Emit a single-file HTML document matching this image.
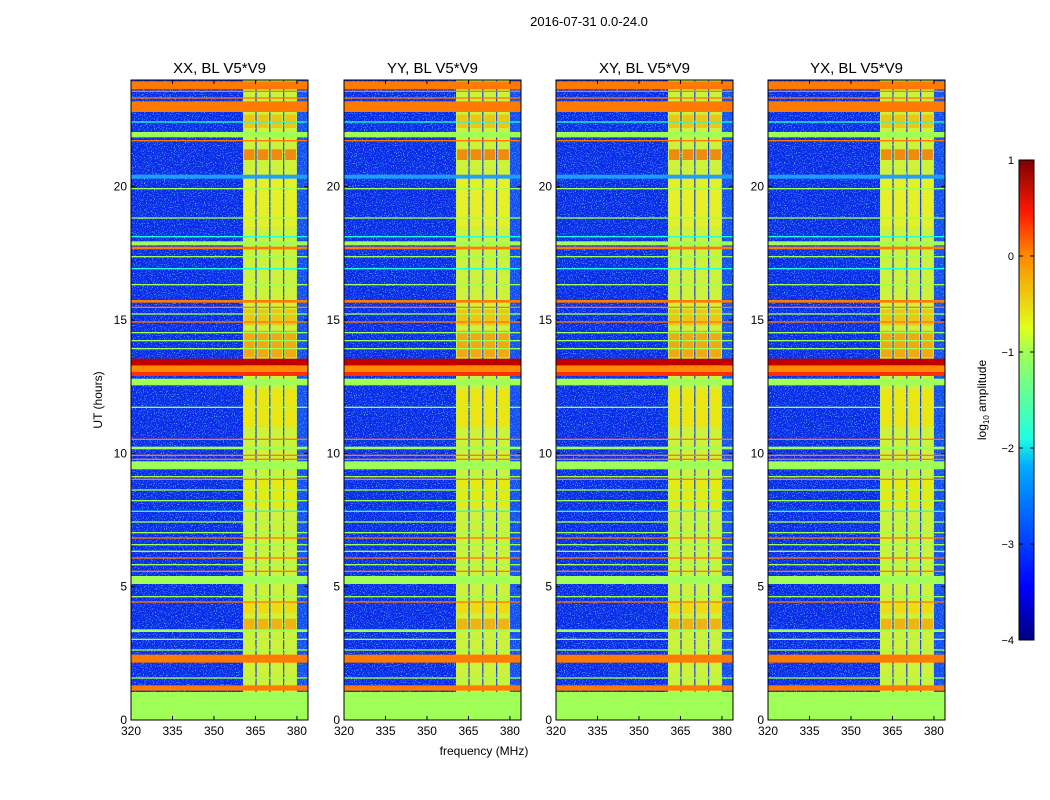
<!DOCTYPE html>
<html><head><meta charset="utf-8"><style>
body{margin:0;background:#fff;width:1050px;height:800px;overflow:hidden;font-family:"Liberation Sans",sans-serif}
svg{position:absolute;left:0;top:0}
text{font-family:"Liberation Sans",sans-serif;fill:#000}
</style></head><body>
<svg id="chart" width="1050" height="800" xmlns="http://www.w3.org/2000/svg">
<defs>
<filter id="noise" x="0" y="0" width="100%" height="100%">
<feTurbulence type="fractalNoise" baseFrequency="0.9" numOctaves="1" seed="3"/>
<feColorMatrix type="matrix" values="0 0 0 0 0.1  0 0 0 0 0.6  0 0 0 0 1  0 0 0 6 -3.4"/>
</filter>
<linearGradient id="jet" x1="0" y1="1" x2="0" y2="0">
<stop offset="0" stop-color="#00007f"/><stop offset="0.11" stop-color="#0000ff"/>
<stop offset="0.36" stop-color="#00aaff"/><stop offset="0.42" stop-color="#1effe0"/>
<stop offset="0.6" stop-color="#a0ff56"/><stop offset="0.65" stop-color="#e0ff1a"/>
<stop offset="0.8" stop-color="#ff8a00"/><stop offset="0.89" stop-color="#ff1a00"/>
<stop offset="1" stop-color="#7f0000"/>
</linearGradient>
</defs>
<text x="589" y="26" font-size="13" text-anchor="middle">2016-07-31 0.0-24.0</text>
</svg>
<script>
const titles=["XX, BL V5*V9","YY, BL V5*V9","XY, BL V5*V9","YX, BL V5*V9"];
const xTicks=[320,335,350,365,380];
const yTicks=[0,5,10,15,20];
const cbTicks=[1,0,-1,-2,-3,-4];
// vertical RFI-band columns [startMHz,endMHz]
const bandCols=[[360.5,365],[365.4,370],[370.4,375],[375.4,380]];
// bright patches inside band columns [startHour,endHour,color]
const bandPatches=[[3.3,3.8,"#ff9a00"],[4.0,4.4,"#ffd000"],[8.0,9.0,"#f0e800"],[11.0,12.4,"#f8e000"],[13.6,14.6,"#ff8a00"],[14.8,15.4,"#ffb000"],
[18.5,20.5,"#f0f020"],[21.0,21.4,"#ff6000"],[22.2,22.7,"#ffb000"]];
// horizontal features [startHour,endHour,color]
const hBands=[[0,1.05,"#a0ff56"],[1.1,1.3,"#ff7a00"],[1.55,1.6,"#a0ff56"],[2.15,2.45,"#ff7a00"],[2.6,2.65,"#a0ff56"],
[3.0,3.05,"#a0ff56"],[3.3,3.4,"#a0ff56"],[4.4,4.45,"#ff7a00"],[4.6,4.65,"#a0ff56"],[5.1,5.4,"#a0ff56"],[5.55,5.6,"#ff7a00"],
[5.8,5.85,"#a0ff56"],[6.05,6.1,"#ff7a00"],[6.3,6.35,"#a0ff56"],[6.55,6.6,"#a0ff56"],[6.8,6.85,"#ff7a00"],[7.0,7.05,"#a0ff56"],
[7.4,7.45,"#a0ff56"],[7.8,7.85,"#1effe0"],[8.2,8.25,"#a0ff56"],[8.6,8.65,"#a0ff56"],[9.0,9.05,"#ff7a00"],[9.1,9.15,"#a0ff56"],
[9.4,9.7,"#a0ff56"],[9.75,9.8,"#ff7a00"],[9.9,9.95,"#ff7a00"],[10.15,10.25,"#a0ff56"],[10.5,10.55,"#ff7a00"],[11.7,11.75,"#a0ff56"],
[12.55,12.8,"#a0ff56"],[12.9,13.05,"#ff3000"],[13.05,13.3,"#ff8a00"],[13.3,13.55,"#c00000"],[13.9,13.95,"#a0ff56"],[14.2,14.25,"#a0ff56"],
[14.5,14.55,"#a0ff56"],[14.9,14.95,"#ff7a00"],[15.2,15.25,"#a0ff56"],[15.45,15.5,"#ff7a00"],[15.65,15.75,"#ff7a00"],
[16.3,16.35,"#a0ff56"],[16.9,16.95,"#1effe0"],[17.35,17.4,"#a0ff56"],[17.65,17.75,"#ff7a00"],[17.8,17.95,"#a0ff56"],
[18.1,18.15,"#1effe0"],[18.8,18.85,"#a0ff56"],[19.9,19.95,"#a0ff56"],[20.3,20.45,"#1e9fff"],[21.7,21.75,"#ff7a00"],
[21.85,22.05,"#a0ff56"],[22.4,22.45,"#1effe0"],[22.8,23.2,"#ff7a00"],[23.3,23.35,"#ff7a00"],[23.55,23.6,"#ff7a00"],[23.65,23.95,"#ff7a00"]];
const panelX=[131,344,556,768],pW=177,pTop=80,pBot=720;
const xMin=320,xMax=384,yMax=24;
const NS="http://www.w3.org/2000/svg",svg=document.getElementById("chart");
function el(t,a,p){const e=document.createElementNS(NS,t);for(const k in a)e.setAttribute(k,a[k]);(p||svg).appendChild(e);return e;}
panelX.forEach((x0,pi)=>{
 const xs=v=>x0+(v-xMin)/(xMax-xMin)*pW, ys=h=>pBot-h/yMax*(pBot-pTop);
 const g=el("g",{});
 
 
 el("rect",{x:x0,y:pTop,width:pW,height:pBot-pTop,fill:"#0a2ae8"},g);
 el("rect",{x:x0,y:pTop,width:pW,height:pBot-pTop,filter:"url(#noise)"},g);
 el("rect",{x:xs(380),y:pTop,width:xs(xMax)-xs(380),height:pBot-pTop,fill:"#2f90ff",opacity:0.35},g);
 bandCols.forEach(c=>{const r=el("rect",{x:xs(c[0]),y:pTop,width:xs(c[1])-xs(c[0]),height:pBot-pTop,fill:"#cdf23c"},g);
  
  bandPatches.forEach(p=>{const q=el("rect",{x:xs(c[0])+1,y:ys(p[1]),width:xs(c[1])-xs(c[0])-2,height:ys(p[0])-ys(p[1]),fill:p[2],opacity:0.7},g);
   });});
 hBands.forEach(b=>{const r=el("rect",{x:x0,y:ys(b[1]),width:pW,height:Math.max(1,ys(b[0])-ys(b[1])),fill:b[2]},g);
  });
 el("rect",{x:x0,y:pTop,width:pW,height:pBot-pTop,fill:"none",stroke:"#000","stroke-width":1},g);
 xTicks.forEach(v=>{el("line",{x1:xs(v),x2:xs(v),y1:pBot,y2:pBot-4,stroke:"#000"},g);el("line",{x1:xs(v),x2:xs(v),y1:pTop,y2:pTop+4,stroke:"#000"},g);
  const t=el("text",{x:xs(v),y:pBot+15,"font-size":12,"text-anchor":"middle"},g);t.textContent=v;
  });
 yTicks.forEach(v=>{el("line",{x1:x0,x2:x0+4,y1:ys(v),y2:ys(v),stroke:"#000"},g);el("line",{x1:x0+pW,x2:x0+pW-4,y1:ys(v),y2:ys(v),stroke:"#000"},g);
  const t=el("text",{x:x0-4,y:ys(v)+4,"font-size":12,"text-anchor":"end"},g);t.textContent=v;
  });
 const tt=el("text",{x:x0+pW/2,y:pTop-7,"font-size":15,"text-anchor":"middle"},g);tt.textContent=titles[pi];
 
});
const yl=el("text",{x:0,y:0,"font-size":12,"text-anchor":"middle",transform:"translate(102,400) rotate(-90)"});yl.textContent="UT (hours)";

const xl=el("text",{x:484,y:755,"font-size":12,"text-anchor":"middle"});xl.textContent="frequency (MHz)";

const cb=el("rect",{x:1019,y:160,width:15,height:480,fill:"url(#jet)",stroke:"#000"});

cbTicks.forEach(v=>{const y=160+(1-v)/5*480;
 el("line",{x1:1019,x2:1023,y1:y,y2:y,stroke:"#000"});el("line",{x1:1030,x2:1034,y1:y,y2:y,stroke:"#000"});
 const t=el("text",{x:1014,y:y+4,"font-size":11,"text-anchor":"end"});t.textContent=v<0?"\u2212"+(-v):v;
 });
const cl=el("text",{x:0,y:0,"font-size":12,"text-anchor":"middle",transform:"translate(986,400) rotate(-90)"});
cl.innerHTML='log<tspan font-size="8" dy="3">10</tspan><tspan dy="-3"> amplitude</tspan>';

</script>
</body></html>
